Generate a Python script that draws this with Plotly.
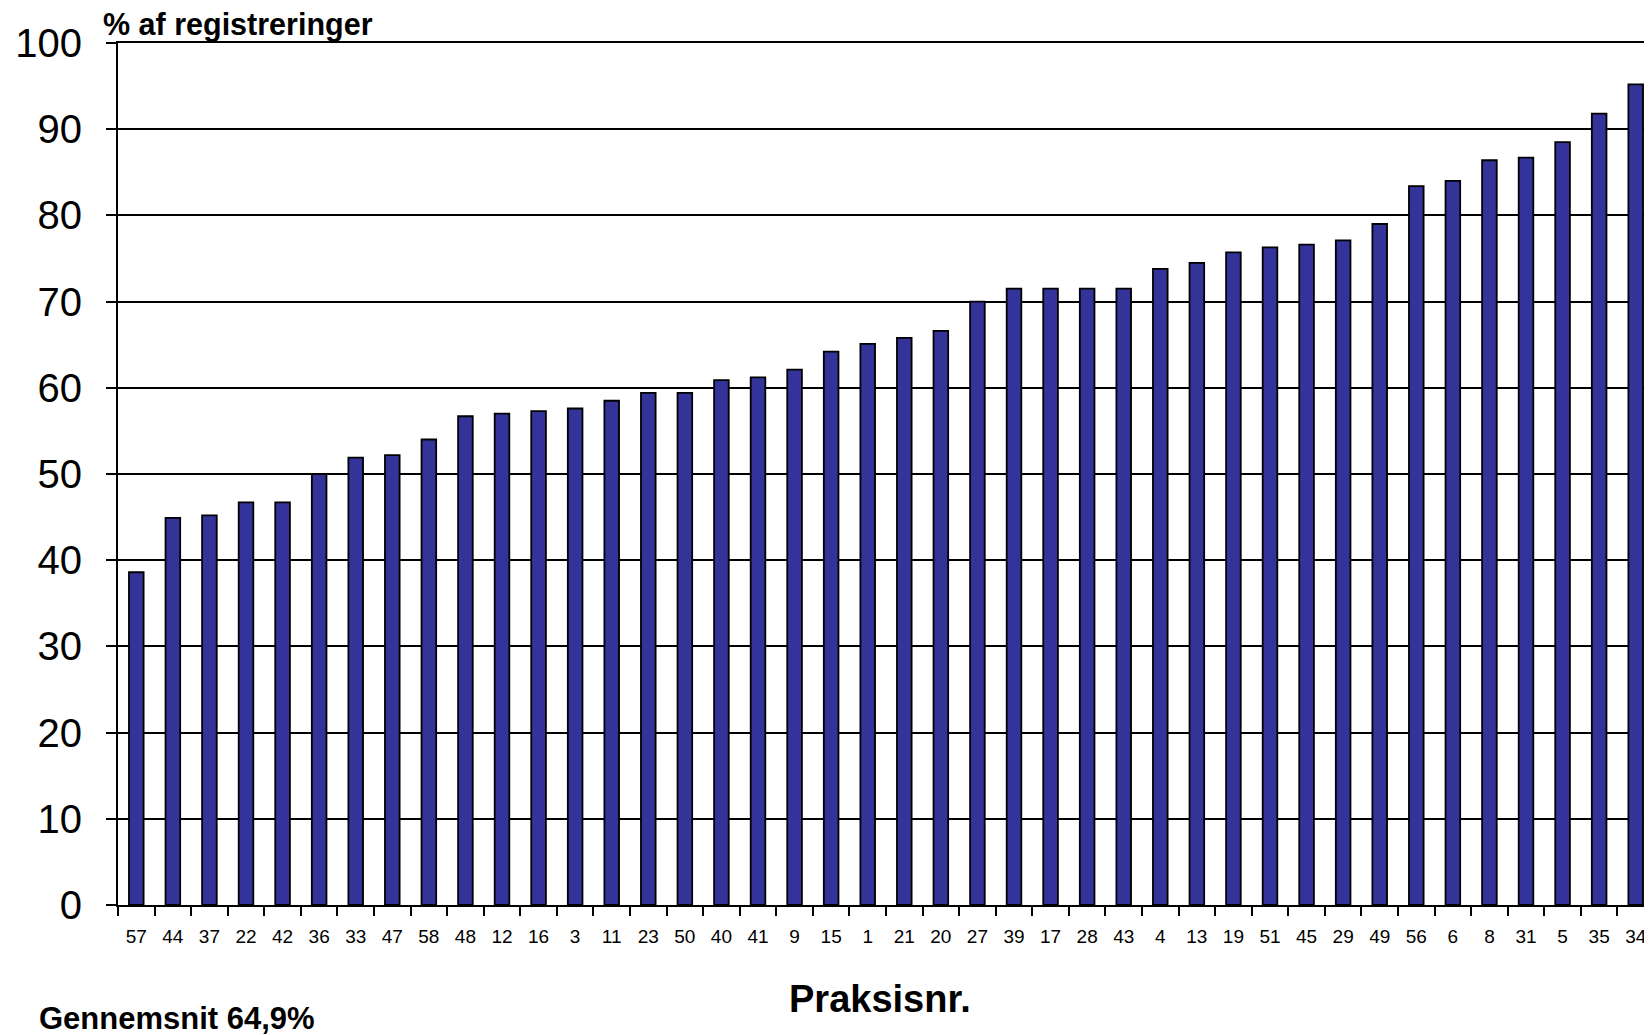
import plotly.graph_objects as go

praksis = ["57", "44", "37", "22", "42", "36", "33", "47", "58", "48", "12", "16", "3", "11",
           "23", "50", "40", "41", "9", "15", "1", "21", "20", "27", "39", "17", "28", "43",
           "4", "13", "19", "51", "45", "29", "49", "56", "6", "8", "31", "5", "35", "34"]
pct = [38.6, 44.9, 45.2, 46.7, 46.7, 50.0, 51.9, 52.2, 54.0, 56.7, 57.0, 57.3, 57.6, 58.5,
       59.4, 59.4, 60.9, 61.2, 62.1, 64.2, 65.1, 65.8, 66.6, 70.0, 71.5, 71.5, 71.5, 71.5,
       73.8, 74.5, 75.7, 76.3, 76.6, 77.1, 79.0, 83.4, 84.0, 86.4, 86.7, 88.5, 91.8, 95.2]
y_ticks = [0, 10, 20, 30, 40, 50, 60, 70, 80, 90, 100]

FONT = "Liberation Sans, Arial, sans-serif"

fig = go.Figure()
fig.add_trace(go.Bar(
    x=praksis, y=pct,
    marker=dict(color="#333399", line=dict(color="black", width=1.8)),
    width=0.4,
))

fig.update_layout(
    width=1652, height=1035,
    margin=dict(l=110, r=4, t=35, b=138),
    plot_bgcolor="white", paper_bgcolor="white",
    showlegend=False,
    font=dict(family=FONT, color="black"),
    xaxis=dict(
        type="category",
        showline=True, linecolor="black", linewidth=2, mirror=True,
        ticks="outside", tickson="boundaries", ticklen=9, tickwidth=2, tickcolor="black",
        tickfont=dict(size=19, family=FONT, color="black"),
        ticklabelstandoff=13,
        showgrid=False,
    ),
    yaxis=dict(
        range=[0, 100], tickvals=y_ticks,
        showline=True, linecolor="black", linewidth=2, mirror=True,
        ticks="outside", ticklen=10, tickwidth=2, tickcolor="black",
        tickfont=dict(size=40, family=FONT, color="black"),
        ticklabelstandoff=16,
        showgrid=True, gridcolor="black", gridwidth=2,
        zeroline=False,
    ),
    annotations=[
        dict(text="<b>% af registreringer</b>", xref="paper", yref="paper",
             x=-0.011, y=1.022, xanchor="left", yanchor="middle", showarrow=False,
             font=dict(size=30.5, family=FONT, color="black")),
        dict(text="<b>Praksisnr.</b>", xref="paper", yref="paper",
             x=0.496, y=-0.1094, xanchor="center", yanchor="middle", showarrow=False,
             font=dict(size=38, family=FONT, color="black")),
        dict(text="<b>Gennemsnit 64,9%</b>", xref="paper", yref="paper",
             x=-0.053, y=-0.132, xanchor="left", yanchor="middle", showarrow=False,
             font=dict(size=31, family=FONT, color="black")),
    ],
)

fig.write_html("out.html")
